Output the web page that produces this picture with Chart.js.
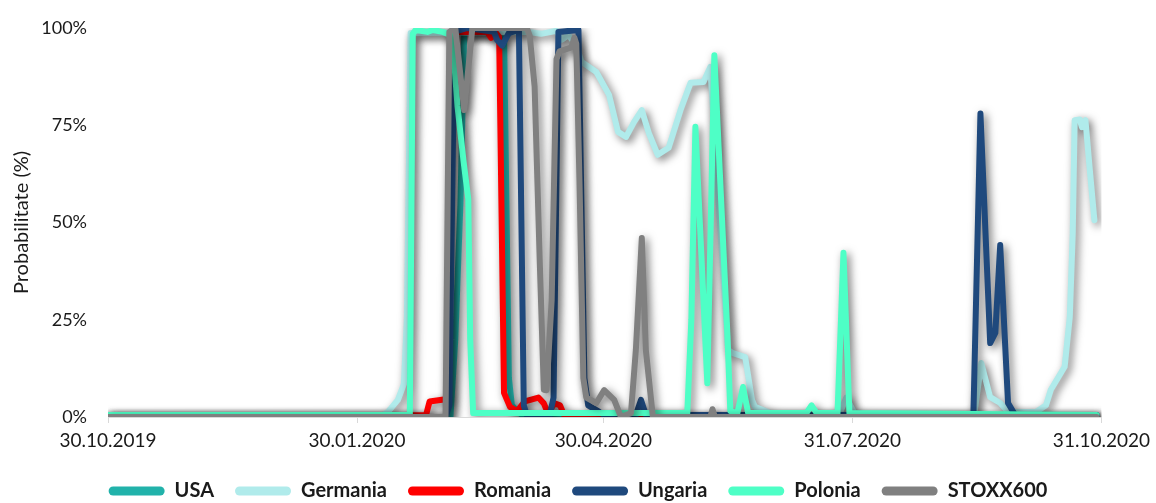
<!DOCTYPE html>
<html>
<head>
<meta charset="utf-8">
<script src="https://cdn.jsdelivr.net/npm/chart.js@4.4.1/dist/chart.umd.min.js"></script>
<style>
  html, body { margin: 0; padding: 0; background: #fff; }
  #wrap { width: 1156px; height: 503px; }
</style>
</head>
<body>
<div id="wrap"><canvas id="probChart"></canvas></div>
<script>
// axa X = zile de la 30.10.2019
const tickDays = [0, 92, 183, 275, 367];
const tickLabels = ['30.10.2019', '30.01.2020', '30.04.2020', '31.07.2020', '31.10.2020'];
const seriesNames = ['USA', 'Germania', 'Romania', 'Ungaria', 'Polonia', 'STOXX600'];
const seriesColors = ['#21b2aa', '#b0ebeb', '#ff0000', '#1f497d', '#4effc6', '#808080'];

// [zi, probabilitate %]
const usa = [[0,0],[126.5,0],[128.3,20],[130.2,55],[131.6,99],[146.3,99],[148.1,10],[149.2,3],[152,1],[154,0],[365.2,0]];
const germania = [[0,0.5],[101.6,0.5],[103.4,1.3],[107.1,4.4],[109.3,8.5],[110.4,25],[111.8,98.7],[155,99],[160,98.5],
  [165.7,99.3],[167.6,97],[170.1,98.2],[173,95.5],[174.9,91.3],[180.4,88.7],[185.1,82.8],[188.4,73.3],[191.4,72],
  [194.3,75.8],[197.2,78.9],[199.8,73],[203.1,67.4],[207.1,69.2],[211.5,78.9],[215.2,85.9],[220,86.1],[222.5,90],
  [225.5,56.6],[229.1,17.2],[230.6,16.5],[235.4,15.4],[237.9,4.4],[239,2.6],[243.8,1.3],[246.4,0.5],[270,0.5],
  [272.8,5],[275.7,1],[280,0.5],[320,0.5],[322.6,13.9],[325.9,5.1],[329.6,3.6],[332.5,1.3],[342.8,1.3],[346.5,3],
  [348.3,7],[353.4,12.9],[355.3,25.7],[356.4,47.3],[357.1,76.3],[359,76.5],[359.8,74.5],[361.1,76.3],[362.6,64.3],[364.4,50.6]];
const romania = [[0,0],[117.5,0.5],[118.8,4],[124,4.5],[125.4,4],[127.2,99],[140,99],[141.5,97.5],[143,99],[144.5,97.7],
  [146.3,6.2],[148.5,2.6],[151.1,1.5],[154,4],[159,5],[161,3.5],[162.5,1],[165,3.5],[167,3],[168.5,0.5],[171,0],[365.2,0]];
const ungaria = [[0,0],[124.7,0],[126.1,3],[128,99],[132.7,100],[142.6,99],[143.7,97],[145.6,95.5],[148.1,98.7],[151.8,99.5],
  [153.6,3],[154.7,0.5],[163.2,0.5],[164.6,5],[166.4,99],[173.8,99.5],[176,10],[177.4,3],[181.5,1.3],[183.3,0.5],[195,0.5],
  [196.9,4.4],[198.7,0.5],[319.7,0.5],[322.3,78],[325.9,19],[327.8,21.6],[329.6,44.2],[332.5,3.6],[335.1,0.5],[365.2,0.5]];
const polonia = [[0,0.5],[111.5,0.5],[112.6,98.5],[113.7,99.5],[118,99],[120,99.5],[123.6,99],[127.2,98],[129.1,80],[131.3,66],
  [133.1,56],[133.8,20],[134.9,1],[214,1],[215.5,25],[217,74.6],[221.4,8.7],[224,93],[226.5,55.8],[228.8,21.6],[229.9,1.5],
  [232.5,1],[234.6,7.7],[236.5,1],[258,1],[259.9,3],[261.8,1],[269.5,1],[271.7,42.2],[273.9,1],[365.2,0.5]];
const stoxx600 = [[0,0],[124.7,0],[126.1,99],[128.3,100],[131.6,78.9],[134.6,100],[154.7,100],[155.8,98],[157.6,85],[159.5,40],
  [161,7],[162,6.9],[163.9,30],[165.7,92],[166.8,94],[171.2,95],[172.3,97.5],[173,96],[174.2,60],[175.6,10],[176.7,5],
  [180.4,3.6],[183.3,6.9],[187,4.4],[189.5,0],[193.2,1],[195,17.2],[197.2,46],[198.7,17.2],[201.3,0],[222.5,0],[223.3,2],
  [224.2,0],[365.2,0]];

const allSeries = [usa, germania, romania, ungaria, polonia, stoxx600];
const textColor = '#1a1a1a';
const fontFamily = 'Lato, "Liberation Sans", sans-serif';

// umbra sub linii, ca in Excel
const lineShadow = {
  id: 'lineShadow',
  beforeDatasetsDraw(chart) {
    const c = chart.ctx;
    c.save();
    c.shadowColor = 'rgba(0,0,0,0.55)';
    c.shadowBlur = 9;
    c.shadowOffsetX = 3;
    c.shadowOffsetY = 3;
  },
  afterDatasetsDraw(chart) {
    chart.ctx.restore();
  }
};

const datasets = allSeries.map((s, i) => ({
  label: seriesNames[i],
  data: s.map(p => ({ x: p[0], y: p[1] })),
  borderColor: seriesColors[i],
  backgroundColor: seriesColors[i],
  borderWidth: 6,
  borderJoinStyle: 'round',
  borderCapStyle: 'round',
  pointRadius: 0,
  tension: 0,
  fill: false,
  order: allSeries.length - i
}));

new Chart(document.getElementById('probChart'), {
  type: 'line',
  data: { datasets: datasets },
  plugins: [lineShadow],
  options: {
    responsive: true,
    maintainAspectRatio: false,
    animation: false,
    devicePixelRatio: 1,
    layout: { padding: { top: 28, right: 0, bottom: -8, left: 0 } },
    plugins: {
      tooltip: { enabled: false },
      legend: {
        position: 'bottom',
        labels: {
          boxWidth: 56,
          boxHeight: 9,
          padding: 21,
          color: textColor,
          font: { family: fontFamily, size: 20, weight: 'bold' },
          generateLabels(chart) {
            return chart.data.datasets.map((ds, i) => ({
              text: ds.label,
              fillStyle: ds.borderColor,
              strokeStyle: ds.borderColor,
              lineWidth: 0,
              borderRadius: 4.5,
              fontColor: textColor,
              hidden: false,
              datasetIndex: i
            }));
          }
        }
      }
    },
    scales: {
      x: {
        type: 'linear',
        min: 0,
        max: 367,
        afterBuildTicks(scale) {
          scale.ticks = tickDays.map(v => ({ value: v }));
        },
        afterFit(scale) { scale.height = 43; },
        grid: { display: true, drawOnChartArea: false, drawTicks: true, tickLength: 6, color: '#d9d9d9' },
        border: { display: true, color: '#d9d9d9' },
        ticks: {
          autoSkip: false,
          maxRotation: 0,
          padding: 6,
          color: textColor,
          font: { family: fontFamily, size: 19 },
          callback: (v) => tickLabels[tickDays.indexOf(v)]
        }
      },
      y: {
        min: 0,
        max: 100,
        afterFit(scale) { scale.width = 108; },
        grid: { display: false },
        border: { display: false },
        ticks: {
          stepSize: 25,
          padding: 13,
          color: textColor,
          font: { family: fontFamily, size: 18 },
          callback: (v) => v + '%'
        },
        title: {
          display: true,
          text: 'Probabilitate (%)',
          color: textColor,
          font: { family: fontFamily, size: 20 },
          padding: { top: 10, bottom: 0 }
        }
      }
    }
  }
});
</script>
</body>
</html>
